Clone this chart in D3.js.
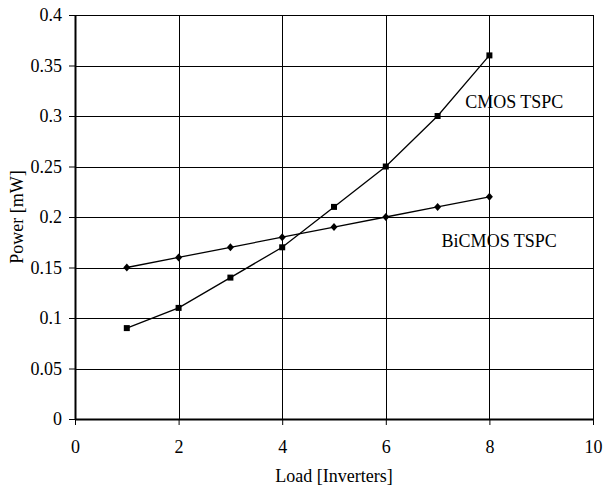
<!DOCTYPE html>
<html>
<head>
<meta charset="utf-8">
<script src="https://d3js.org/d3.v7.min.js"></script>
<style>
  body { margin: 0; background: #fff; }
</style>
</head>
<body>
<div id="chart-area"></div>
<script>
const loads = [1, 2, 3, 4, 5, 6, 7, 8];
const cmosPower = [0.09, 0.11, 0.14, 0.17, 0.21, 0.25, 0.30, 0.36];
const bicmosPower = [0.15, 0.16, 0.17, 0.18, 0.19, 0.20, 0.21, 0.22];
const xTicks = [0, 2, 4, 6, 8, 10];
const yTicks = [0, 0.05, 0.1, 0.15, 0.2, 0.25, 0.3, 0.35, 0.4];

const serif = "'Liberation Serif', 'Times New Roman', Times, serif";
const fontSize = "18px";

const margin = { left: 75, right: 12, top: 15, bottom: 67 },
    width = 605 - margin.left - margin.right,
    height = 486 - margin.top - margin.bottom;

const svg = d3.select("#chart-area")
    .append("svg")
    .attr("width", 605)
    .attr("height", 486);

const g = svg.append("g")
    .attr("transform", `translate(${margin.left}, ${margin.top})`);

const x = d3.scaleLinear().domain([0, 10]).range([0, width]);
const y = d3.scaleLinear().domain([0, 0.4]).range([height, 0]);

// grid lines
g.append("g").selectAll("line").data(yTicks.slice(1)).join("line")
    .attr("x1", 0).attr("x2", width)
    .attr("y1", d => Math.round(y(d)) + 0.5).attr("y2", d => Math.round(y(d)) + 0.5)
    .attr("stroke", "#000").attr("stroke-width", 1);
g.append("g").selectAll("line").data(xTicks.slice(1)).join("line")
    .attr("y1", 0).attr("y2", height)
    .attr("x1", d => Math.round(x(d)) + 0.5).attr("x2", d => Math.round(x(d)) + 0.5)
    .attr("stroke", "#000").attr("stroke-width", 1);

// axes
const xAxis = g.append("g")
    .attr("transform", `translate(0, ${height})`)
    .call(d3.axisBottom(x).tickValues(xTicks).tickFormat(d3.format("d")).tickSizeInner(6).tickSizeOuter(0).tickPadding(18));
const yAxis = g.append("g")
    .call(d3.axisLeft(y).tickValues(yTicks).tickFormat(d => d3.format("")(+d.toFixed(2))).tickSizeInner(6).tickSizeOuter(0).tickPadding(7));

[xAxis, yAxis].forEach(a => {
    a.attr("font-family", null).attr("font-size", null);
    a.select(".domain").attr("stroke", "#000").attr("stroke-width", 2);
    a.selectAll(".tick line").attr("stroke", "#000").attr("stroke-width", 1);
    a.selectAll(".tick text").attr("fill", "#000")
        .style("font-family", serif).style("font-size", fontSize);
});
xAxis.selectAll(".tick text").attr("dy", "0.55em");

// lines
const line = d3.line()
    .x(d => x(d[0]))
    .y(d => y(d[1]));

const cmosData = loads.map((l, i) => [l, cmosPower[i]]);
const bicmosData = loads.map((l, i) => [l, bicmosPower[i]]);

g.append("path").attr("d", line(cmosData))
    .attr("fill", "none").attr("stroke", "#000").attr("stroke-width", 1.3);
g.append("path").attr("d", line(bicmosData))
    .attr("fill", "none").attr("stroke", "#000").attr("stroke-width", 1.3);

g.selectAll(".sq").data(cmosData).join("rect")
    .attr("class", "sq")
    .attr("x", d => x(d[0]) - 3).attr("y", d => y(d[1]) - 3)
    .attr("width", 6).attr("height", 6).attr("fill", "#000");

g.selectAll(".dm").data(bicmosData).join("path")
    .attr("class", "dm")
    .attr("transform", d => `translate(${x(d[0])}, ${y(d[1])})`)
    .attr("d", "M0,-4L3.5,0L0,4L-3.5,0Z").attr("fill", "#000");

// series labels
g.append("text")
    .attr("x", x(8.48)).attr("y", y(0.308)).attr("text-anchor", "middle")
    .style("font-family", serif).style("font-size", fontSize).text("CMOS TSPC");
g.append("text")
    .attr("x", x(8.19)).attr("y", y(0.17)).attr("text-anchor", "middle")
    .style("font-family", serif).style("font-size", fontSize).text("BiCMOS TSPC");

// axis labels
svg.append("text")
    .attr("x", margin.left + width / 2).attr("y", 482)
    .attr("text-anchor", "middle")
    .style("font-family", serif).style("font-size", fontSize)
    .text("Load [Inverters]");
svg.append("text")
    .attr("transform", `translate(23, ${margin.top + height / 2}) rotate(-90)`)
    .attr("text-anchor", "middle")
    .style("font-family", serif).style("font-size", fontSize)
    .text("Power [mW]");
</script>
</body>
</html>
